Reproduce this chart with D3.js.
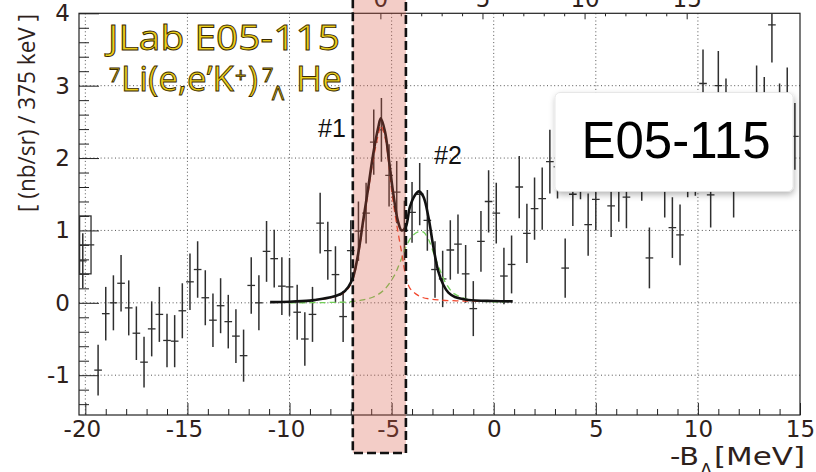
<!DOCTYPE html>
<html>
<head>
<meta charset="utf-8">
<script src="https://cdn.jsdelivr.net/npm/d3@7"></script>
<style>
  body { margin: 0; background: #fff; }
  svg { display: block; font-family: "Open Sans", sans-serif; }
</style>
</head>
<body>
<div id="chart"></div>
<script>
// histogram: 375 keV bins starting at binLow
const binLow = -20.3125;
const binWidth = 0.375;

const counts = [
  0.58, 0.80, -0.93, -0.15, 0.00, 0.27, -0.07, -0.42, -0.82, -0.36,
  -0.16, -0.52, -0.53, -0.11, 0.29, 0.46, 0.07, -0.24, -0.04, -0.26,
  -0.46, -0.73, 0.24, 0.00, 0.71, 0.61, 0.23, 0.22, -0.13, -0.50,
  -0.16, 1.10, 0.72, 0.39, -0.19, 0.72, 0.99, 1.24, 2.22, 2.39,
  1.76, 1.53, 1.00, 1.25, 1.50, 1.14, 0.46, 0.33, 0.73, 0.81,
  0.40, -0.08, 0.85, 1.40, 1.24, 0.37, 0.53, 1.60, 0.96, 1.30,
  1.44, 1.95, 1.88, 0.48, 1.50, 1.87, 1.08, 1.43, 2.20, 1.34,
  1.55, 1.46, 2.10, 1.85, 0.62, 2.30, 1.62, 1.04, 0.94, 1.91,
  1.93, 3.03, 1.49, 3.00, 2.64, 1.63, 2.20, 2.30, 2.82, 2.66,
  3.84, 2.57, 2.78, 2.30
];

const errors = [
  0.38, 0.40, 0.35, 0.37, 0.38, 0.39, 0.38, 0.37, 0.35, 0.38,
  0.38, 0.37, 0.36, 0.38, 0.39, 0.39, 0.38, 0.37, 0.38, 0.37,
  0.37, 0.36, 0.39, 0.38, 0.42, 0.40, 0.40, 0.40, 0.38, 0.37,
  0.38, 0.42, 0.40, 0.39, 0.35, 0.42, 0.41, 0.42, 0.45, 0.44,
  0.43, 0.43, 0.41, 0.42, 0.43, 0.42, 0.39, 0.39, 0.41, 0.41,
  0.40, 0.38, 0.42, 0.43, 0.42, 0.39, 0.40, 0.43, 0.41, 0.43,
  0.43, 0.44, 0.44, 0.41, 0.44, 0.44, 0.43, 0.43, 0.45, 0.43,
  0.43, 0.43, 0.45, 0.44, 0.42, 0.45, 0.44, 0.42, 0.42, 0.45,
  0.45, 0.47, 0.45, 0.48, 0.46, 0.45, 0.45, 0.46, 0.46, 0.46,
  0.52, 0.46, 0.47, 0.46
];

// fit curves: [-B_Lambda, value]
const fitTotal = [
  [-10.95, 0.01], [-10, 0.015], [-9, 0.03], [-8.74, 0.04], [-7.93, 0.08],
  [-7.44, 0.13], [-7.12, 0.22], [-6.88, 0.36], [-6.63, 0.69], [-6.39, 1.14],
  [-6.14, 1.60], [-5.90, 2.06], [-5.65, 2.43], [-5.53, 2.55], [-5.32, 2.36],
  [-5.13, 1.97], [-4.92, 1.51], [-4.70, 1.14], [-4.51, 1.00], [-4.31, 1.05],
  [-4.10, 1.33], [-3.85, 1.49], [-3.66, 1.54], [-3.45, 1.47], [-3.20, 1.19],
  [-2.96, 0.78], [-2.71, 0.43], [-2.47, 0.25], [-2.22, 0.14], [-1.90, 0.08],
  [-1.24, 0.04], [0, 0.025], [0.93, 0.02]
];

const fitPeak1 = [
  [-9, 0.03], [-8, 0.07], [-7.44, 0.12], [-7.12, 0.2], [-6.88, 0.34],
  [-6.63, 0.66], [-6.39, 1.10], [-6.14, 1.54], [-5.90, 1.98], [-5.65, 2.33],
  [-5.53, 2.45], [-5.32, 2.28], [-5.13, 1.90], [-5.0, 1.55], [-4.75, 1.08],
  [-4.5, 0.68], [-4.3, 0.36], [-4.1, 0.20], [-3.8, 0.12], [-3.5, 0.075],
  [-2.7, 0.04], [-1.5, 0.025], [-0.2, 0.02]
];

const fitPeak2 = [
  [-10.0, 0.0], [-8, 0.005], [-7, 0.015], [-6.4, 0.04], [-5.9, 0.08],
  [-5.4, 0.17], [-4.9, 0.36], [-4.6, 0.55], [-4.3, 0.77], [-4.0, 0.92],
  [-3.7, 0.98], [-3.45, 0.98], [-3.2, 0.88], [-2.9, 0.65], [-2.6, 0.43],
  [-2.4, 0.30], [-2.1, 0.17], [-1.9, 0.12], [-1.5, 0.07], [-1.2, 0.04],
  [-0.5, 0.02], [0.5, 0.01]
];

const xMajor = [-20, -15, -10, -5, 0, 5, 10, 15];
const yMajor = [-1, 0, 1, 2, 3, 4];
const topMajor = [0, 5, 10, 15];
const exOffset = 5.55;          // top axis: excitation energy
const shadeRange = [-6.9, -4.3];

const width = 816, height = 472;
const plot = { left: 79, right: 800, top: 13.3, bottom: 415 };
const ink = "#2e211b";
const tickFont = '"DejaVu Sans", sans-serif';

const svg = d3.select("#chart").append("svg")
  .attr("width", width)
  .attr("height", height);

const defs = svg.append("defs");
defs.append("clipPath").attr("id", "clip")
  .append("rect")
  .attr("x", plot.left).attr("y", plot.top)
  .attr("width", plot.right - plot.left).attr("height", plot.bottom - plot.top);
defs.append("filter").attr("id", "shadow")
  .attr("x", "-10%").attr("y", "-10%").attr("width", "125%").attr("height", "135%")
  .append("feDropShadow")
  .attr("dx", 1).attr("dy", 3).attr("stdDeviation", 3)
  .attr("flood-color", "#000").attr("flood-opacity", 0.28);

const x = d3.scaleLinear().domain([-20.31, 15]).range([plot.left, plot.right]);
const y = d3.scaleLinear().domain([-1.55, 4]).range([plot.bottom, plot.top]);
const xTop = d3.scaleLinear()
  .domain(x.domain().map(d => d + exOffset))
  .range(x.range());

// grid
const grid = svg.append("g")
  .attr("stroke", "#555")
  .attr("stroke-width", 1)
  .attr("stroke-dasharray", "1,2.6");
grid.selectAll(".gx").data(xMajor.filter(d => d < 15)).enter().append("line")
  .attr("x1", d => x(d)).attr("x2", d => x(d))
  .attr("y1", plot.top).attr("y2", plot.bottom);
grid.selectAll(".gy").data(yMajor.filter(d => d < 4)).enter().append("line")
  .attr("y1", d => y(d)).attr("y2", d => y(d))
  .attr("x1", plot.left).attr("x2", plot.right);

// axes (ticks point inward, ROOT style)
function styleAxis(g) {
  g.select(".domain").remove();
  g.selectAll(".tick line").attr("stroke", "#222").attr("stroke-width", 1);
  g.selectAll(".tick text")
    .attr("fill", ink)
    .style("font-size", "23px")
    .style("font-family", tickFont);
}

const xMinor = d3.range(-20, 16).filter(d => !xMajor.includes(d));
svg.append("g")
  .attr("transform", `translate(0,${plot.bottom})`)
  .call(d3.axisBottom(x).tickValues(xMajor).tickSize(-12).tickPadding(6)
    .tickFormat(d => String(d)))
  .call(styleAxis)
  .call(g => g.selectAll(".tick text").attr("dx", d => d < 0 ? "-0.15em" : 0));
svg.append("g")
  .attr("transform", `translate(0,${plot.bottom})`)
  .call(d3.axisBottom(x).tickValues(xMinor).tickSize(-6).tickFormat(""))
  .call(styleAxis);

const yMinor = d3.range(-7, 20).map(d => d / 5).filter(d => !Number.isInteger(d));
svg.append("g")
  .attr("transform", `translate(${plot.left},0)`)
  .call(d3.axisLeft(y).tickValues(yMajor).tickSize(-20).tickPadding(9)
    .tickFormat(d => String(d)))
  .call(styleAxis);
svg.append("g")
  .attr("transform", `translate(${plot.left},0)`)
  .call(d3.axisLeft(y).tickValues(yMinor).tickSize(-10).tickFormat(""))
  .call(styleAxis);

svg.append("g")
  .attr("transform", `translate(0,${plot.top})`)
  .call(d3.axisTop(xTop).tickValues(topMajor).tickSize(-6).tickPadding(6)
    .tickFormat(d => String(d)))
  .call(styleAxis);
svg.append("g")
  .attr("transform", `translate(0,${plot.top})`)
  .call(d3.axisTop(xTop).tickValues(d3.range(1, 15).filter(d => d % 5))
    .tickSize(-3).tickFormat(""))
  .call(styleAxis);

// frame
svg.append("rect")
  .attr("x", plot.left).attr("y", plot.top)
  .attr("width", plot.right - plot.left).attr("height", plot.bottom - plot.top)
  .attr("fill", "none").attr("stroke", "#222").attr("stroke-width", 1.2);

// data points
const bins = counts.map((v, i) => ({
  c: binLow + binWidth * (i + 0.5),
  v: v,
  e: errors[i],
  i: i
}));

const data = svg.append("g").attr("clip-path", "url(#clip)");

const pts = bins.filter(b => b.i !== 1);
data.selectAll(".ev").data(pts).enter().append("line")
  .attr("x1", b => x(b.c)).attr("x2", b => x(b.c))
  .attr("y1", b => y(b.v - b.e)).attr("y2", b => y(b.v + b.e))
  .attr("stroke", "#2f2f2f").attr("stroke-width", 1.5);
data.selectAll(".eh").data(pts).enter().append("line")
  .attr("x1", b => x(b.c - binWidth / 2)).attr("x2", b => x(b.c + binWidth / 2))
  .attr("y1", b => y(b.v)).attr("y2", b => y(b.v))
  .attr("stroke", "#2f2f2f").attr("stroke-width", 1.3);

// first bins at the edge drawn as an error box
const edge = bins[1];
data.append("rect")
  .attr("x", x(x.domain()[0]) + 0.6)
  .attr("y", y(edge.v + edge.e))
  .attr("width", x(edge.c) - x(x.domain()[0]))
  .attr("height", y(edge.v - edge.e) - y(edge.v + edge.e))
  .attr("fill", "none").attr("stroke", "#2f2f2f").attr("stroke-width", 1.3);
data.append("line")
  .attr("x1", x(x.domain()[0])).attr("x2", x(edge.c + binWidth / 2))
  .attr("y1", y(edge.v)).attr("y2", y(edge.v))
  .attr("stroke", "#2f2f2f").attr("stroke-width", 1.3);

// fit curves
const line = d3.line()
  .x(d => x(d[0]))
  .y(d => y(d[1]))
  .curve(d3.curveCatmullRom.alpha(0.5));

data.append("path").datum(fitPeak2)
  .attr("d", line).attr("fill", "none")
  .attr("stroke", "#72cf58").attr("stroke-width", 1.3)
  .attr("stroke-dasharray", "6,4");
data.append("path").datum(fitPeak1)
  .attr("d", line).attr("fill", "none")
  .attr("stroke", "#f2462c").attr("stroke-width", 1.3)
  .attr("stroke-dasharray", "6,4");
data.append("path").datum(fitTotal)
  .attr("d", line).attr("fill", "none")
  .attr("stroke", "#111").attr("stroke-width", 2.6);

// peak labels
svg.append("text").attr("x", 318).attr("y", 137)
  .style("font-family", '"Liberation Sans", Arial, sans-serif')
  .style("font-size", "25px").attr("fill", "#111").text("#1");
svg.append("text").attr("x", 434).attr("y", 164)
  .style("font-family", '"Liberation Sans", Arial, sans-serif')
  .style("font-size", "25px").attr("fill", "#111").text("#2");

// highlighted region for peak #1
svg.append("rect")
  .attr("x", x(shadeRange[0]))
  .attr("y", -10)
  .attr("width", x(shadeRange[1]) - x(shadeRange[0]))
  .attr("height", 463)
  .attr("fill", "rgba(214,90,70,0.3)")
  .attr("stroke", "#111")
  .attr("stroke-width", 2.6)
  .attr("stroke-dasharray", "9,4");

// experiment title text (gold with dark outline)
const gold = svg.append("g")
  .attr("fill", "#eccf1c")
  .attr("stroke", "#3b2b00")
  .attr("stroke-width", 0.9)
  .style("font-family", '"Open Sans", sans-serif');

gold.append("text").attr("x", 108).attr("y", 50)
  .style("font-size", "34px")
  .attr("textLength", 232).attr("lengthAdjust", "spacingAndGlyphs")
  .text("JLab E05-115");

gold.append("text").attr("x", 109).attr("y", 82).style("font-size", "20px").text("7");
gold.append("text").attr("x", 121).attr("y", 91)
  .style("font-size", "34px")
  .attr("textLength", 113).attr("lengthAdjust", "spacingAndGlyphs")
  .text("Li(e,e\u2019K");
gold.append("text").attr("x", 235).attr("y", 82).style("font-size", "20px").text("+");
gold.append("text").attr("x", 248).attr("y", 91).style("font-size", "34px").text(")");
gold.append("text").attr("x", 262).attr("y", 82).style("font-size", "20px").text("7");
gold.append("text").attr("x", 272).attr("y", 100).style("font-size", "20px").text("\u039B");
gold.append("text").attr("x", 296).attr("y", 91)
  .style("font-size", "34px")
  .attr("textLength", 46).attr("lengthAdjust", "spacingAndGlyphs")
  .text("He");

// callout box
svg.append("rect")
  .attr("x", 555).attr("y", 92.5)
  .attr("width", 238).attr("height", 99)
  .attr("rx", 5)
  .attr("fill", "#fff")
  .attr("stroke", "#e2e2e2")
  .attr("stroke-width", 0.8)
  .attr("filter", "url(#shadow)");
svg.append("text")
  .attr("x", 676).attr("y", 158)
  .attr("text-anchor", "middle")
  .style("font-family", '"Liberation Sans", Arial, sans-serif')
  .style("font-size", "51px")
  .attr("fill", "#000")
  .text("E05-115");

// axis titles (the slide stretches text horizontally)
svg.append("text")
  .attr("transform", "translate(26,113) scale(1.25,1) rotate(-90)")
  .attr("text-anchor", "middle")
  .attr("dominant-baseline", "central")
  .attr("fill", ink)
  .style("font-size", "19px")
  .attr("textLength", 198).attr("lengthAdjust", "spacingAndGlyphs")
  .text("[ (nb/sr) / 375 keV ]");

const xTitle = svg.append("g")
  .attr("fill", ink)
  .style("font-family", tickFont);
xTitle.append("text").attr("x", 670).attr("y", 465)
  .style("font-size", "25px")
  .attr("textLength", 29).attr("lengthAdjust", "spacingAndGlyphs")
  .text("-B");
xTitle.append("text").attr("x", 700).attr("y", 476)
  .style("font-size", "18px").text("\u039B");
xTitle.append("text").attr("x", 714).attr("y", 465)
  .style("font-size", "25px")
  .attr("textLength", 91).attr("lengthAdjust", "spacingAndGlyphs")
  .text("[MeV]");
</script>
</body>
</html>
